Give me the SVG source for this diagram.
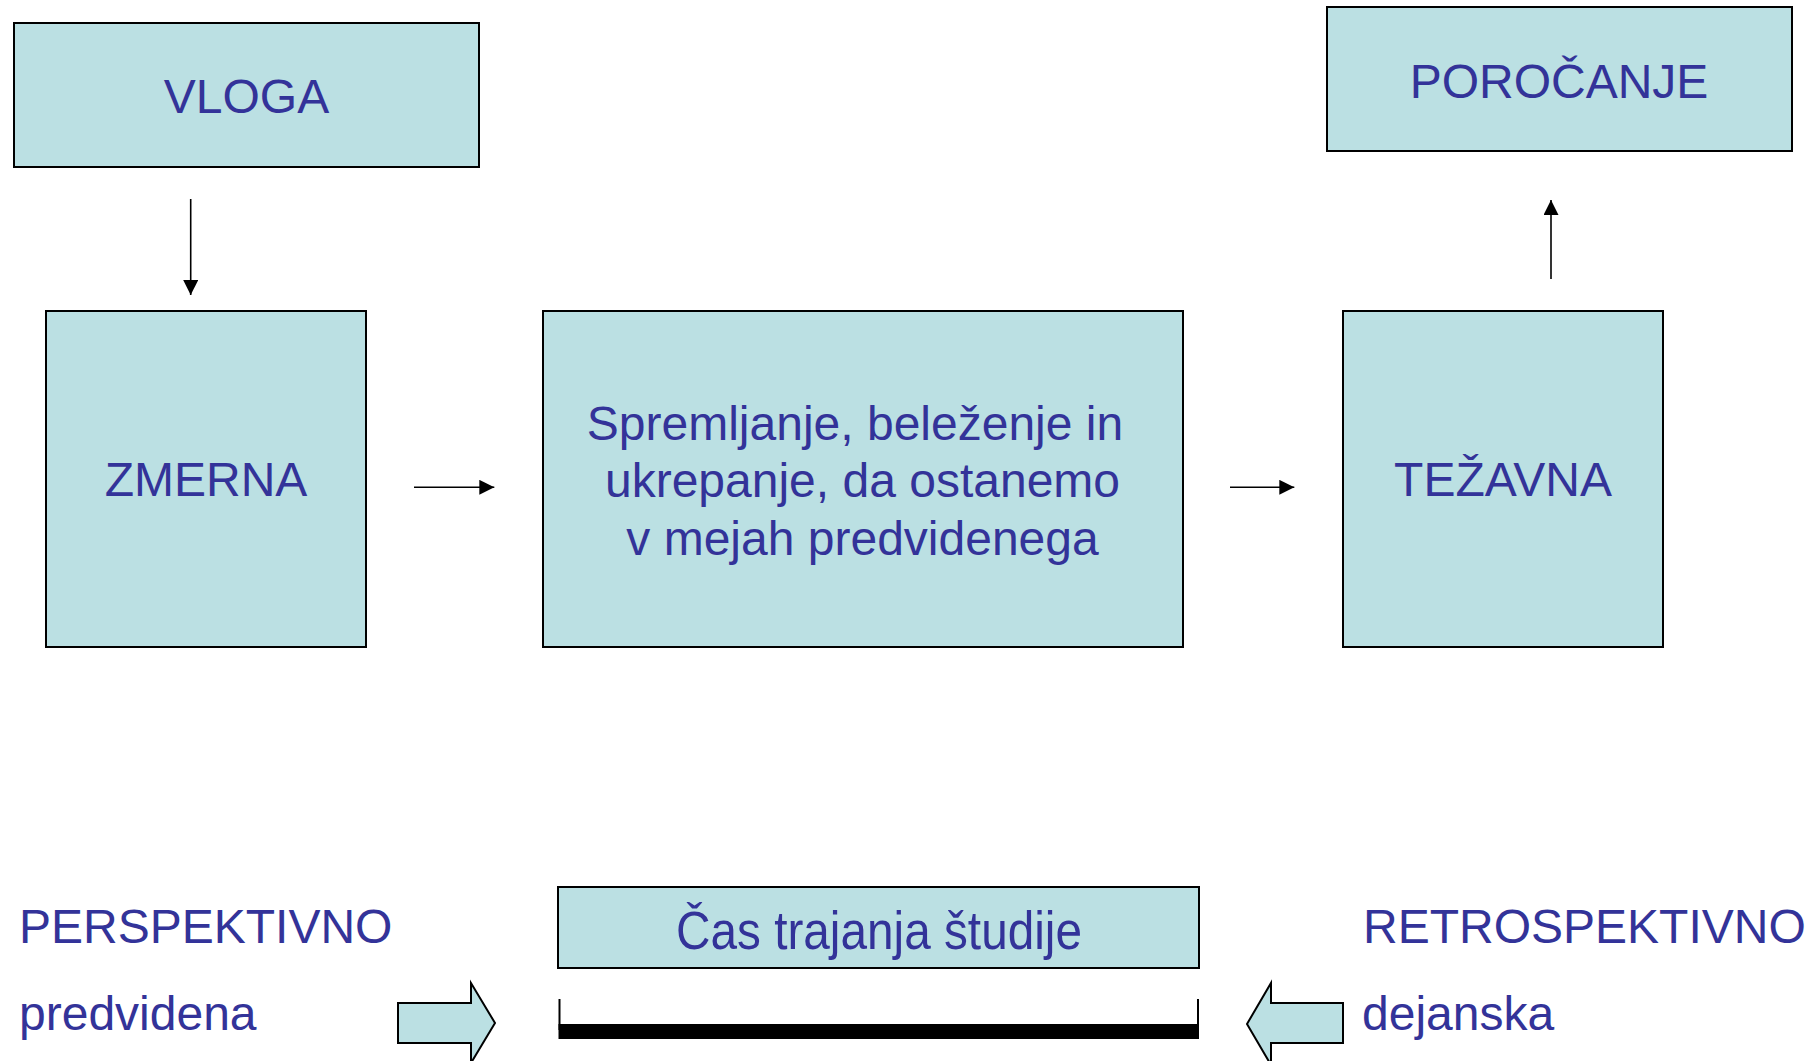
<svg xmlns="http://www.w3.org/2000/svg" width="1818" height="1061" viewBox="0 0 1818 1061">
<style>
.box{fill:#BBE0E3;stroke:#000;stroke-width:2}
.t{font-family:"Liberation Sans",Arial,sans-serif;fill:#333399;font-size:48px}
.c{text-anchor:middle}
.conn{stroke:#000;stroke-width:1.6;fill:none}
</style>
<defs>
<marker id="ah" markerUnits="userSpaceOnUse" markerWidth="16" markerHeight="16" refX="15" refY="7.5" orient="auto">
<path d="M0,0 L15,7.5 L0,15 z" fill="#000"/>
</marker>
</defs>
<rect width="1818" height="1061" fill="#fff"/>
<g id="vloga">
<rect class="box" x="14" y="23" width="465" height="144"/>
<text class="t c" x="246.5" y="113">VLOGA</text>
</g>
<g id="porocanje">
<rect class="box" x="1327" y="7" width="465" height="144"/>
<text class="t c" x="1559" y="98">POROČANJE</text>
</g>
<g id="zmerna">
<rect class="box" x="46" y="311" width="320" height="336"/>
<text class="t c" x="206" y="496">ZMERNA</text>
</g>
<g id="spremljanje">
<rect class="box" x="543" y="311" width="640" height="336"/>
<text class="t c" x="855" y="440">Spremljanje, beleženje in</text>
<text class="t c" x="862.5" y="497">ukrepanje, da ostanemo</text>
<text class="t c" x="862.5" y="555">v mejah predvidenega</text>
</g>
<g id="tezavna">
<rect class="box" x="1343" y="311" width="320" height="336"/>
<text class="t c" x="1503" y="496">TEŽAVNA</text>
</g>
<g id="connectors">
<line class="conn" x1="190.7" y1="199" x2="190.7" y2="295" marker-end="url(#ah)"/>
<line class="conn" x1="414" y1="487.3" x2="494.3" y2="487.3" marker-end="url(#ah)"/>
<line class="conn" x1="1230" y1="487.3" x2="1294.3" y2="487.3" marker-end="url(#ah)"/>
<line class="conn" x1="1551" y1="279" x2="1551" y2="200" marker-end="url(#ah)"/>
</g>
<g id="perspektivno">
<text class="t" x="19" y="943">PERSPEKTIVNO</text>
<text class="t" x="19" y="1030">predvidena</text>
</g>
<g id="retrospektivno">
<text class="t" x="1363" y="943">RETROSPEKTIVNO</text>
<text class="t" x="1362" y="1030">dejanska</text>
</g>
<g id="cas">
<rect class="box" x="558" y="887" width="641" height="81"/>
<text class="t c" x="879" y="949" style="font-size:54px" textLength="406" lengthAdjust="spacingAndGlyphs">Čas trajanja študije</text>
</g>
<g id="timebar">
<line x1="559.5" y1="999" x2="559.5" y2="1030" stroke="#000" stroke-width="2"/>
<line x1="1198" y1="999" x2="1198" y2="1030" stroke="#000" stroke-width="2"/>
<rect x="558.5" y="1024" width="640.5" height="15" fill="#000"/>
</g>
<g id="arrow-right">
<polygon class="box" points="398,1003 471,1003 471,983 495,1023 471,1063 471,1043 398,1043"/>
</g>
<g id="arrow-left">
<polygon class="box" points="1343,1003 1271,1003 1271,983 1247,1024 1271,1065 1271,1043 1343,1043"/>
</g>
</svg>
